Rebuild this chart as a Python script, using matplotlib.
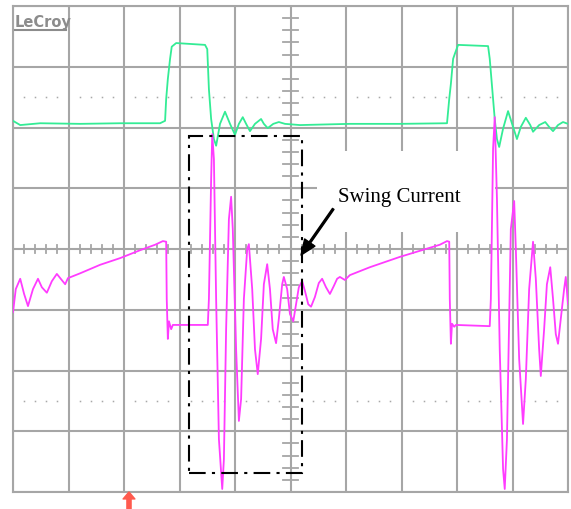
import numpy as np
import matplotlib
matplotlib.use("Agg")
import matplotlib.pyplot as plt
from matplotlib.patches import Rectangle

# Scope screen: 10 horizontal x 8 vertical divisions, values in divisions
green_t = [0.00, 0.13, 0.49, 1.21, 1.93, 2.65, 2.74, 2.76, 2.79, 2.83, 2.86, 2.94,
           3.46, 3.50, 3.53, 3.57, 3.62, 3.66, 3.73, 3.82, 3.91, 4.00, 4.07, 4.14,
           4.20, 4.27, 4.36, 4.47, 4.52, 4.59, 4.69, 4.79, 4.90, 5.17, 6.07, 6.97,
           7.82, 7.86, 7.89, 7.93, 7.96, 8.02, 8.56, 8.59, 8.65, 8.68, 8.72, 8.76,
           8.83, 8.92, 9.01, 9.08, 9.15, 9.24, 9.32, 9.37, 9.48, 9.59, 9.66, 9.73,
           9.82, 9.91, 10.0]
green_v = [2.11, 2.04, 2.07, 2.06, 2.07, 2.07, 2.11, 2.47, 2.80, 3.13, 3.33, 3.39,
           3.36, 3.29, 2.63, 2.14, 1.81, 1.70, 2.06, 2.26, 2.06, 1.88, 2.06, 2.17,
           2.06, 1.94, 2.06, 2.14, 2.06, 1.99, 2.06, 2.09, 2.06, 2.04, 2.06, 2.06,
           2.07, 2.47, 2.72, 3.13, 3.21, 3.36, 3.34, 3.13, 2.47, 2.14, 1.81, 1.68,
           1.98, 2.27, 2.01, 1.81, 2.01, 2.16, 2.04, 1.93, 2.04, 2.09, 2.01, 1.94,
           2.04, 2.09, 2.06]

pink_t = [0.00, 0.05, 0.13, 0.20, 0.27, 0.36, 0.45, 0.52, 0.61, 0.70, 0.79, 0.86,
          0.94, 0.99, 1.21, 1.57, 1.93, 2.29, 2.56, 2.70, 2.76, 2.77, 2.79, 2.81,
          2.85, 2.88, 3.51, 3.53, 3.57, 3.59, 3.62, 3.66, 3.71, 3.77, 3.80, 3.84,
          3.89, 3.93, 3.96, 4.02, 4.07, 4.11, 4.16, 4.22, 4.25, 4.31, 4.36, 4.41,
          4.47, 4.52, 4.58, 4.63, 4.68, 4.74, 4.79, 4.85, 4.88, 4.94, 4.99, 5.05,
          5.10, 5.15, 5.21, 5.26, 5.32, 5.37, 5.44, 5.51, 5.57, 5.64, 5.71, 5.78,
          5.84, 5.89, 5.98, 6.07, 6.43, 6.97, 7.33, 7.69, 7.82, 7.86, 7.87, 7.89,
          7.91, 7.95, 7.98, 8.59, 8.61, 8.65, 8.68, 8.72, 8.77, 8.83, 8.86, 8.90,
          8.94, 8.97, 9.03, 9.06, 9.12, 9.19, 9.24, 9.30, 9.37, 9.42, 9.48, 9.51,
          9.57, 9.62, 9.68, 9.73, 9.78, 9.82, 9.87, 9.93, 9.96, 10.0]
pink_v = [-1.04, -0.66, -0.49, -0.74, -0.94, -0.66, -0.49, -0.63, -0.72, -0.53, -0.41, -0.49,
          -0.58, -0.48, -0.40, -0.26, -0.15, -0.02, 0.07, 0.13, 0.12, -0.82, -1.48, -1.19,
          -1.32, -1.25, -1.25, -0.82, 1.15, 1.89, 1.48, -0.82, -3.13, -3.95, -3.46, -1.32,
          0.49, 0.86, 0.33, -1.65, -2.83, -2.47, -0.82, 0.00, 0.08, -0.66, -1.65, -2.06,
          -1.48, -0.58, -0.25, -0.66, -1.32, -1.55, -1.15, -0.58, -0.46, -0.66, -1.07, -1.19,
          -0.91, -0.63, -0.53, -0.69, -0.91, -0.95, -0.79, -0.56, -0.49, -0.63, -0.74, -0.61,
          -0.49, -0.46, -0.51, -0.43, -0.30, -0.13, -0.03, 0.07, 0.13, 0.12, -0.82, -1.56,
          -1.23, -1.28, -1.25, -1.27, -0.82, 1.65, 2.17, 0.82, -1.65, -3.62, -3.95, -3.13,
          -1.15, 0.33, 0.79, 0.00, -1.81, -2.88, -2.14, -0.66, 0.12, -0.49, -1.65, -2.09,
          -1.32, -0.58, -0.30, -0.82, -1.40, -1.56, -1.15, -0.66, -0.46, -0.91]

# dash-dot window around the swing current (divisions)
box_x = [3.17, 5.21]
box_y = [-3.69, 1.86]

label_text = "Swing Current"
trigger_x = 2.09

grid_col = "#a6a6a6"
green_col = "#33ec95"
pink_col = "#ff3cff"

fig = plt.figure(figsize=(5.71, 5.10), dpi=100)
ax = fig.add_axes([13 / 571, 17 / 510, 555 / 571, 486 / 510])
ax.set_xlim(0, 10)
ax.set_ylim(-4, 4)
ax.set_xticks(range(11))
ax.set_yticks(range(-4, 5))
ax.tick_params(length=0, labelbottom=False, labelleft=False)
ax.grid(True, color=grid_col, linewidth=1.5)
ax.set_axisbelow(True)
for s in ax.spines.values():
    s.set_color(grid_col)
    s.set_linewidth(1.5)

# dotted helper rows
for yy in (2.5, -2.5):
    xs = [k * 0.2 for k in range(51) if k % 5 != 0]
    ax.plot(xs, [yy] * len(xs), ls="none", marker="s", ms=1.1, mew=0,
            color="#a8a8a8", zorder=1)

# centre crosshair ticks
for k in range(51):
    ax.plot([k * 0.2, k * 0.2], [-0.066, 0.066], color=grid_col, lw=1.3, zorder=1)
for k in range(41):
    yk = -4 + k * 0.2
    ax.plot([4.87, 5.13], [yk, yk], color=grid_col, lw=1.3, zorder=1)

# white label background
ax.add_patch(Rectangle((5.48, 0.28), 3.2, 1.33, facecolor="white", edgecolor="none", zorder=2))

ax.plot(green_t, green_v, color=green_col, lw=1.3, zorder=3)
ax.plot(pink_t, pink_v, color=pink_col, lw=1.3, zorder=3)

ax.add_patch(Rectangle((box_x[0], box_y[0]), box_x[1] - box_x[0], box_y[1] - box_y[0],
                       fill=False, edgecolor="black", linestyle=(0, (8, 3, 1.5, 3)),
                       lw=1.5, zorder=4))

ax.text(5.86, 0.87, label_text, family="Liberation Serif", fontsize=15,
        va="center", ha="left", zorder=5)
ax.annotate("", xy=(5.19, -0.10), xytext=(5.77, 0.66),
            arrowprops=dict(width=1.3, headwidth=9, headlength=11, color="black",
                            shrink=0),
            zorder=5)

ax.annotate("", xy=(trigger_x, -4.0), xytext=(trigger_x, -4.3),
            arrowprops=dict(width=3, headwidth=8.5, headlength=5, color="#ff5a4e",
                            shrink=0),
            annotation_clip=False)

# LeCroy logo
fig.text(15 / 571, 1 - 22 / 510, "LeCroy", color="#8c8c8c", fontsize=10.5,
         fontweight="bold", va="center", ha="left")
fig.add_artist(plt.Line2D([15 / 571, 66 / 571], [1 - 31 / 510, 1 - 31 / 510],
                          color="#8c8c8c", lw=1.5))

fig.savefig("out.png", dpi=100)
